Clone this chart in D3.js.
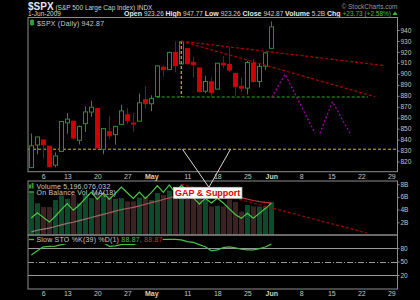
<!DOCTYPE html>
<meta charset="utf-8">
<style>
    body { margin: 0; background: #000; }
    svg { display: block; background: #000; }
    text { font-family: "Liberation Sans", Arial, sans-serif; }
    .frame { fill: none; stroke: #8c8c8c; stroke-width: 1; }
    .axis path, .axis line { stroke: #8c8c8c; }
    .axis text { fill: #c4c4c4; font-size: 6.5px; }
    .axis--x text { font-size: 7px; }
    .legend { fill: #c8c8c8; font-size: 7px; letter-spacing: 0.2px; }
</style>
<svg width="420" height="300"></svg>
<script src="https://d3js.org/d3.v7.min.js"></script>
<script>

// $SPX daily, 2-Apr-2009 .. 1-Jun-2009 (trading days)
var days = ["2-Apr","3-Apr","6-Apr","7-Apr","8-Apr","9-Apr","13-Apr","14-Apr","15-Apr","16-Apr","17-Apr",
    "20-Apr","21-Apr","22-Apr","23-Apr","24-Apr","27-Apr","28-Apr","29-Apr","30-Apr","1-May",
    "4-May","5-May","6-May","7-May","8-May","11-May","12-May","13-May","14-May","15-May",
    "18-May","19-May","20-May","21-May","22-May","26-May","27-May","28-May","29-May","1-Jun"];
var opens = [814.53,835.13,839.75,834.12,816.76,829.29,855.33,856.88,839.44,854.54,865.18,
    868.27,831.25,847.26,844.62,853.91,862.82,854.48,856.85,876.59,872.74,
    879.21,906.10,903.95,919.58,909.03,922.99,910.52,905.40,884.24,892.76,
    886.07,909.67,908.62,900.42,888.68,887.00,909.95,892.96,907.02,923.26];
var highs = [845.61,842.50,839.75,834.12,828.42,856.91,864.31,856.88,852.93,870.35,875.63,
    868.27,850.09,861.78,852.87,871.80,868.83,864.48,882.06,888.70,880.48,
    907.85,907.70,920.28,929.58,930.17,922.99,915.57,905.40,898.36,896.97,
    910.00,916.39,924.60,900.42,896.65,911.76,913.84,909.45,920.02,947.77];
var lows = [814.53,826.70,822.79,814.53,814.84,829.29,845.35,840.25,835.58,847.04,860.87,
    832.39,826.83,840.57,835.45,853.91,854.65,847.12,856.85,868.51,866.10,
    879.21,897.34,903.95,901.36,909.03,908.68,896.46,882.80,882.52,878.94,
    886.07,905.22,901.37,879.61,883.75,881.46,891.87,887.60,903.56,923.26];
var closes = [834.38,842.50,835.48,815.55,825.16,856.56,858.73,841.50,852.06,865.30,869.60,
    832.39,850.08,843.55,851.92,866.23,857.51,855.16,873.64,872.81,877.52,
    907.24,903.80,919.53,907.39,929.23,909.24,908.35,883.92,893.07,882.88,
    909.71,908.13,903.47,888.33,887.00,910.33,893.06,906.83,919.14,942.87];
var prevClose = 811.08;

// volume in billions, on balance volume and its MA(18) (billions, relative)
var volumes = [6.6,5.0,4.4,4.4,5.5,6.2,5.7,6.3,5.0,6.3,5.8,
    6.8,6.2,6.2,5.7,5.8,5.3,5.3,5.9,6.0,5.5,
    6.6,6.3,7.0,7.3,7.0,5.7,5.9,6.2,5.5,4.5,
    4.6,4.5,5.6,5.2,3.7,4.7,4.5,4.5,4.5,5.2];
var obv = [0,5.0,0.6,-3.8,1.7,7.9,13.6,7.3,12.3,18.6,24.4,
    17.6,23.8,17.6,23.3,29.1,23.8,18.5,24.4,18.4,23.9,
    30.5,24.2,31.2,23.9,30.9,25.2,19.3,13.1,18.6,14.1,
    18.7,14.2,8.6,3.4,-0.3,4.4,-0.1,4.4,8.9,14.1];
var obvMa = [-13,-11.5,-10.5,-9.5,-8,-6.5,-5,-4,-2.5,-1,0.5,
    2,3.5,5,6.5,8,9,10,11.5,13,14.5,
    16,17.5,19,20.5,21.8,22.5,22.8,22.8,22.8,22.6,
    22.4,22,21.4,20.5,19.2,17.8,16.5,15.5,14.7,14.0];

// slow stochastic %K(39)
var stoK = [64.7,74,83,84,84.5,88,90.5,91,94,96,97,
    93,92,84,85,88,89,88,92,93,94,
    98,99.5,99.8,99.5,98.5,94.5,93,88,83,74,
    76,81,83,80.5,77.5,76,76,79,82.5,88.9];

// axis ticks (trading-day index -> label)
var xTickIdx = [2,6,11,16,20,26,31,36,40,45,50,55,60];
var xTickLabels = ["6","13","20","27","May","11","18","25","Jun","8","15","22","29"];
var priceTicks = [820,830,840,850,860,870,880,890,900,910,920,930,940];
var volTicks = [2,4,6,8];
var stoTicks = [20,50,80];

// annotations (day index / price)
var fanADays = [25, 58.9], fanAPrices = [929.8, 907.5];
var fanBDays = [25, 57.3], fanBPrices = [929.8, 879.2];
var gapDays = [20.9, 56.1], gapPrice = 878.9;
var gapVertDay = 25, gapVertPrices = [930, 878.9];
var supportPrice = 831.3;
var projADays = [40.07, 42.3, 47.3], projAPrices = [878.7, 899.6, 845.8];
var projBDays = [48.1, 50.2, 53.1], projBPrices = [845.8, 874.6, 845.8];
var obvTrendDays = [25, 56], obvTrendVals = [31.9, -14.2];
var calloutDays = [25.2, 29.6, 33.2];

var svg = d3.select("svg");

var left = 28, right = 397.5,
    main = {top: 17.5, bottom: 171.7},
    vol = {top: 181, bottom: 235},
    sto = {top: 235, bottom: 289};

var x = d3.scaleLinear().domain([-0.55, 61.03]).range([left, right]);
var y = d3.scaleLinear().domain([810.8, 951.4]).range([main.bottom, main.top]);
var yVol = d3.scaleLinear().domain([0, 8.5]).range([vol.bottom, vol.top]);
var yObv = d3.scaleLinear().domain([-16, 34.9]).range([vol.bottom, vol.top]);
var ySto = d3.scaleLinear().domain([-11.4, 109.4]).range([sto.bottom, sto.top]);

var defs = svg.append("defs");
[["clipMain", main], ["clipVol", vol], ["clipSto", sto]].forEach(function(c) {
    defs.append("clipPath").attr("id", c[0]).append("rect")
        .attr("x", left).attr("y", c[1].top)
        .attr("width", right - left).attr("height", c[1].bottom - c[1].top);
});
var grad = defs.append("linearGradient").attr("id", "maGrad")
    .attr("gradientUnits", "userSpaceOnUse")
    .attr("x1", left).attr("x2", x(40)).attr("y1", 0).attr("y2", 0);
grad.append("stop").attr("offset", "0%").attr("stop-color", "#8a8080");
grad.append("stop").attr("offset", "100%").attr("stop-color", "#c02c2c");

var data = days.map(function(d, i) {
    return {i: i, day: d, o: opens[i], h: highs[i], l: lows[i], c: closes[i],
        v: volumes[i], up: closes[i] >= (i ? closes[i - 1] : prevClose)};
});

// ---- header
var head = svg.append("text").attr("x", left).attr("y", 9.5).attr("fill", "#e6e6e6");
head.append("tspan").attr("font-size", "10px").attr("font-weight", "bold").text("$SPX");
head.append("tspan").attr("font-size", "6.5px").attr("fill", "#d0d0d0").text(" (S&P 500 Large Cap Index) INDX");

svg.append("text").attr("x", right).attr("y", 8.5).attr("text-anchor", "end")
    .attr("font-size", "6.5px").attr("fill", "#9a9a9a").text("\u00a9 StockCharts.com");

svg.append("text").attr("x", left).attr("y", 16).attr("font-size", "6.5px")
    .attr("fill", "#d8d8d8").text("1-Jun-2009");

var quote = [["Open ", "923.26 "], ["High ", "947.77 "], ["Low ", "923.26 "],
    ["Close ", "942.87 "], ["Volume ", "5.2B "], ["Chg ", "+23.73 (+2.58%)"]];
var qt = svg.append("text").attr("x", 391).attr("y", 16).attr("text-anchor", "end");
quote.forEach(function(q, k) {
    qt.append("tspan").attr("font-size", "7px").attr("font-weight", "bold").attr("fill", "#e8e8e8").text(q[0]);
    qt.append("tspan").attr("font-size", "6.5px").attr("fill", k === 5 ? "#3cc03c" : "#cfcfcf").text(q[1]);
});
svg.append("path").attr("d", "M392.5,15 L395,11.5 L397.5,15 Z").attr("fill", "#3cc03c");

// ---- main price panel
var gm = svg.append("g").attr("clip-path", "url(#clipMain)");

gm.append("line")
    .attr("x1", left).attr("x2", right)
    .attr("y1", y(supportPrice)).attr("y2", y(supportPrice))
    .attr("stroke", "#c8c400").attr("stroke-dasharray", "3,2");

var candles = gm.selectAll(".candle").data(data).enter().append("g").attr("class", "candle");
candles.append("line")
    .attr("x1", function(d) { return Math.round(x(d.i)) + 0.5; })
    .attr("x2", function(d) { return Math.round(x(d.i)) + 0.5; })
    .attr("y1", function(d) { return y(d.h); })
    .attr("y2", function(d) { return y(d.l); })
    .attr("stroke", function(d) { return d.up ? "#2f8a2f" : "#a00000"; });
candles.append("rect")
    .attr("x", function(d) { return Math.round(x(d.i)) - 1.5; })
    .attr("width", 4)
    .attr("y", function(d) { return y(Math.max(d.o, d.c)); })
    .attr("height", function(d) { return Math.max(1, Math.abs(y(d.o) - y(d.c))); })
    .attr("fill", function(d) { return d.c >= d.o ? "#000" : (d.up ? "#2f8a2f" : "#d00000"); })
    .attr("stroke", function(d) { return d.up ? "#2f8a2f" : "#c80000"; });

gm.append("line")
    .attr("x1", x(gapDays[0])).attr("x2", x(gapDays[1]))
    .attr("y1", y(gapPrice)).attr("y2", y(gapPrice))
    .attr("stroke", "#2fb02f").attr("stroke-dasharray", "3,2");

gm.append("line")
    .attr("x1", x(gapVertDay)).attr("x2", x(gapVertDay))
    .attr("y1", y(gapVertPrices[0])).attr("y2", y(gapVertPrices[1]))
    .attr("stroke", "#c8a800").attr("stroke-width", 1.3).attr("stroke-dasharray", "3,2");

[[fanADays, fanAPrices], [fanBDays, fanBPrices]].forEach(function(f) {
    gm.append("line")
        .attr("x1", x(f[0][0])).attr("x2", x(f[0][1]))
        .attr("y1", y(f[1][0])).attr("y2", y(f[1][1]))
        .attr("stroke", "#b00000").attr("stroke-width", 1.2).attr("stroke-dasharray", "3,2");
});

var priceLine = d3.line().x(function(d) { return x(d[0]); }).y(function(d) { return y(d[1]); });
[[projADays, projAPrices], [projBDays, projBPrices]].forEach(function(p) {
    gm.append("path")
        .attr("d", priceLine(d3.zip(p[0], p[1])))
        .attr("fill", "none").attr("stroke", "#a000a8")
        .attr("stroke-width", 1.3).attr("stroke-dasharray", "2,2");
});

// legend
gm.append("rect").attr("x", 30).attr("y", 20).attr("width", 4).attr("height", 5).attr("fill", "#2fa02f");
gm.append("line").attr("x1", 32).attr("x2", 32).attr("y1", 19).attr("y2", 26).attr("stroke", "#2fa02f");
svg.append("text").attr("class", "legend").attr("x", 37).attr("y", 25.5)
    .attr("letter-spacing", "0.3px").text("$SPX (Daily) 942.87");

// ---- volume panel
var gv = svg.append("g").attr("clip-path", "url(#clipVol)");
gv.selectAll(".bar").data(data).enter().append("rect")
    .attr("class", "bar")
    .attr("x", function(d) { return Math.round(x(d.i)) - 2; })
    .attr("width", 5)
    .attr("y", function(d) { return yVol(d.v); })
    .attr("height", function(d) { return yVol(0) - yVol(d.v); })
    .attr("fill", function(d) { return d.up ? "#0e4a2a" : "#3c2323"; });

gv.append("path")
    .attr("d", d3.line().x(function(d, i) { return x(i); }).y(function(d) { return yObv(d); })(obvMa))
    .attr("fill", "none").attr("stroke", "url(#maGrad)").attr("stroke-width", 1.2);
gv.append("path")
    .attr("d", d3.line().x(function(d, i) { return x(i); }).y(function(d) { return yObv(d); })(obv))
    .attr("fill", "none").attr("stroke", "#45cc45").attr("stroke-width", 1.2);
gv.append("line")
    .attr("x1", x(obvTrendDays[0])).attr("x2", x(obvTrendDays[1]))
    .attr("y1", yObv(obvTrendVals[0])).attr("y2", yObv(obvTrendVals[1]))
    .attr("stroke", "#a00000").attr("stroke-width", 1.2).attr("stroke-dasharray", "3,2");

gv.append("rect").attr("x", 29).attr("y", 184.5).attr("width", 2).attr("height", 4).attr("fill", "#2fa02f");
gv.append("rect").attr("x", 31.5).attr("y", 183).attr("width", 2).attr("height", 5.5).attr("fill", "#2fa02f");
svg.append("text").attr("class", "legend").attr("x", 36.5).attr("y", 189)
    .attr("letter-spacing", "0.35px").text("Volume 5,196,076,032");
svg.append("line").attr("x1", 29).attr("x2", 34).attr("y1", 192).attr("y2", 192)
    .attr("stroke", "#45cc45").attr("stroke-width", 1.3);
svg.append("text").attr("class", "legend").attr("x", 36.5).attr("y", 195)
    .attr("font-size", "6.5px").text("On Balance Vol, MA(18)");

// ---- stochastic panel
var gs = svg.append("g").attr("clip-path", "url(#clipSto)");
stoTicks.forEach(function(t) {
    gs.append("line")
        .attr("x1", left).attr("x2", right)
        .attr("y1", Math.round(ySto(t)) + 0.5).attr("y2", Math.round(ySto(t)) + 0.5)
        .attr("stroke", "#9a9a9a")
        .attr("stroke-dasharray", t === 50 ? "6,2,1,2" : null);
});
gs.append("path")
    .attr("d", d3.line().x(function(d, i) { return x(i); }).y(function(d) { return ySto(d); })(stoK))
    .attr("fill", "none").attr("stroke", "#45c045").attr("stroke-width", 1.2);

var stoLeg = svg.append("text").attr("class", "legend").attr("x", 36.5).attr("y", 242);
stoLeg.append("tspan").text("Slow STO %K(39) %D(1) ");
stoLeg.append("tspan").attr("fill", "#45c045").text("88.87, ");
stoLeg.append("tspan").attr("fill", "#d03030").text("88.87");
var bb = stoLeg.node().getBBox();
svg.insert("rect", function() { return stoLeg.node(); })
    .attr("x", bb.x - 1).attr("y", bb.y + 1).attr("width", bb.width + 1).attr("height", bb.height - 1)
    .attr("fill", "#000");
svg.append("line").attr("x1", 29).attr("x2", 34).attr("y1", 239.5).attr("y2", 239.5)
    .attr("stroke", "#45c045").attr("stroke-width", 1.3);

// ---- frames and axes
[main, vol, sto].forEach(function(p) {
    svg.append("rect").attr("class", "frame")
        .attr("x", left).attr("y", p.top).attr("width", right - left).attr("height", p.bottom - p.top);
});

function xAxis(yPos) {
    var ax = svg.append("g")
        .attr("class", "axis axis--x")
        .attr("transform", "translate(0," + yPos + ")")
        .call(d3.axisBottom(x).tickValues(xTickIdx)
            .tickFormat(function(d, i) { return xTickLabels[i]; })
            .tickSize(0).tickPadding(2));
    ax.select(".domain").remove();
    ax.selectAll("text")
        .filter(function(d, i) { return isNaN(+xTickLabels[i]); })
        .attr("font-weight", "bold").style("fill", "#d8d0b0");
}
xAxis(main.bottom);
xAxis(sto.bottom);

var ay = svg.append("g").attr("class", "axis")
    .attr("transform", "translate(" + right + ",0)")
    .call(d3.axisRight(y).tickValues(priceTicks).tickSize(2).tickPadding(1));
ay.select(".domain").remove();

var av = svg.append("g").attr("class", "axis")
    .attr("transform", "translate(" + right + ",0)")
    .call(d3.axisRight(yVol).tickValues(volTicks).tickSize(2).tickPadding(1)
        .tickFormat(function(d) { return d + "B"; }));
av.select(".domain").remove();

var as = svg.append("g").attr("class", "axis")
    .attr("transform", "translate(" + right + ",0)")
    .call(d3.axisRight(ySto).tickValues(stoTicks).tickSize(2).tickPadding(1));
as.select(".domain").remove();

// ---- GAP & Support callout
var apex = [x(calloutDays[1]), 187.3];
[calloutDays[0], calloutDays[2]].forEach(function(dd) {
    svg.append("line")
        .attr("x1", x(dd)).attr("y1", y(supportPrice))
        .attr("x2", apex[0]).attr("y2", apex[1])
        .attr("stroke", "#d8d8d8").attr("stroke-width", 1);
});
svg.append("rect")
    .attr("x", apex[0] - 35.4).attr("y", apex[1])
    .attr("width", 68.4).attr("height", 11)
    .attr("fill", "#fff").attr("stroke", "#c8c8c8").attr("stroke-width", 0.8);
svg.append("text")
    .attr("x", apex[0] - 1.2).attr("y", apex[1] + 8.8)
    .attr("text-anchor", "middle")
    .attr("font-size", "9px").attr("font-weight", "bold").attr("fill", "#e00000")
    .text("GAP & Support");

</script>
